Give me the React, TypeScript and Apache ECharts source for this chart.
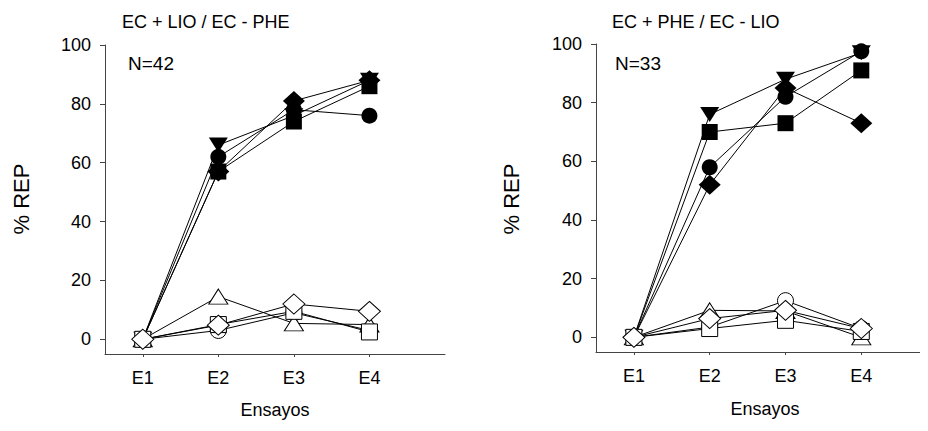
import React, { useEffect, useRef } from "react";
import * as echarts from "echarts";

const trials = ["E1", "E2", "E3", "E4"];
const yTicks = [0, 20, 40, 60, 80, 100];

// Left panel: EC + LIO / EC - PHE
const leftCircleFilled = [0, 62, 78, 76];
const leftTriDownFilled = [0, 66, 76, 88];
const leftSquareFilled = [0, 57, 74, 86];
const leftDiamondFilled = [0, 57, 81, 88];
const leftCircleOpen = [0, 3, 9, 3];
const leftTriOpen = [0, 14.5, 5.4, 5];
const leftSquareOpen = [0, 5, 9.5, 2.5];
const leftDiamondOpen = [0, 4.8, 12, 9.5];

// Right panel: EC + PHE / EC - LIO
const rightCircleFilled = [0, 58, 82, 97.5];
const rightTriDownFilled = [0, 76, 88, 97];
const rightSquareFilled = [0, 70, 73, 91];
const rightDiamondFilled = [0, 52, 85, 73];
const rightCircleOpen = [0, 3.5, 12.5, 3];
const rightTriOpen = [0, 9.2, 9, 0];
const rightSquareOpen = [0, 3, 5.8, 2];
const rightDiamondOpen = [0, 6.4, 9.2, 3];

const FONT = "Liberation Sans, Arial, sans-serif";

type Shape = "circle" | "triDown" | "triangle" | "rect" | "diamond";

function symbolFor(shape: Shape) {
  switch (shape) {
    case "circle":
      return { symbol: "circle", symbolSize: 16, symbolRotate: 0 };
    case "triDown":
      return { symbol: "triangle", symbolSize: [19, 15], symbolRotate: 180 };
    case "triangle":
      return { symbol: "triangle", symbolSize: [19, 15], symbolRotate: 0 };
    case "rect":
      return { symbol: "rect", symbolSize: 16, symbolRotate: 0 };
    case "diamond":
      return { symbol: "diamond", symbolSize: [22, 20], symbolRotate: 0 };
  }
}

function makeSeries(values: number[], shape: Shape, filled: boolean, panel: number) {
  const s = symbolFor(shape);
  return {
    type: "line",
    xAxisIndex: panel,
    yAxisIndex: panel,
    data: values.map((v, i) => [i + 1, v]),
    ...s,
    showSymbol: true,
    lineStyle: { color: "#000", width: 1 },
    itemStyle: filled
      ? { color: "#000", borderColor: "#000", borderWidth: 0 }
      : { color: "#fff", borderColor: "#000", borderWidth: 1 },
    emphasis: { disabled: true },
    z: filled ? 2 : 3,
  };
}

function xAxisFor(panel: number, max: number) {
  return {
    type: "value",
    gridIndex: panel,
    min: 0.5,
    max,
    axisLine: { show: true, onZero: false, lineStyle: { color: "#444", width: 1 } },
    axisTick: {
      show: true,
      length: 3,
      lineStyle: { color: "#444" },
      customValues: [1, 2, 3, 4],
    },
    axisLabel: {
      customValues: [1, 2, 3, 4],
      formatter: (v: number) => trials[Math.round(v) - 1] ?? "",
      color: "#000",
      fontFamily: FONT,
      fontSize: 18,
      margin: 15,
    },
    splitLine: { show: false },
  };
}

function yAxisFor(panel: number) {
  return {
    type: "value",
    gridIndex: panel,
    min: -5,
    max: 100,
    axisLine: { show: true, onZero: false, lineStyle: { color: "#444", width: 1 } },
    axisTick: {
      show: true,
      length: 5,
      lineStyle: { color: "#444" },
      customValues: yTicks,
    },
    axisLabel: {
      customValues: yTicks,
      color: "#000",
      fontFamily: FONT,
      fontSize: 18,
      margin: 14,
    },
    splitLine: { show: false },
  };
}

function textEl(text: string, x: number, y: number, size: number, align = "left", rotation = 0) {
  return {
    type: "text",
    x,
    y,
    rotation,
    silent: true,
    style: {
      text,
      fill: "#000",
      font: `${size}px ${FONT}`,
      textAlign: align,
      textVerticalAlign: "middle",
    },
  };
}

export default function App() {
  const ref = useRef<HTMLDivElement>(null);
  useEffect(() => {
    if (!ref.current) return;
    const chart = echarts.init(ref.current, null, { renderer: "svg" });
    chart.setOption({
      animation: false,
      backgroundColor: "#fff",
      grid: [
        { left: 105, top: 45, width: 340, height: 309 },
        { left: 596, top: 44, width: 332, height: 308 },
      ],
      xAxis: [xAxisFor(0, 5), xAxisFor(1, 4.88)],
      yAxis: [yAxisFor(0), yAxisFor(1)],
      series: [
        makeSeries(leftCircleFilled, "circle", true, 0),
        makeSeries(leftTriDownFilled, "triDown", true, 0),
        makeSeries(leftSquareFilled, "rect", true, 0),
        makeSeries(leftDiamondFilled, "diamond", true, 0),
        makeSeries(leftCircleOpen, "circle", false, 0),
        makeSeries(leftTriOpen, "triangle", false, 0),
        makeSeries(leftSquareOpen, "rect", false, 0),
        makeSeries(leftDiamondOpen, "diamond", false, 0),
        makeSeries(rightCircleFilled, "circle", true, 1),
        makeSeries(rightTriDownFilled, "triDown", true, 1),
        makeSeries(rightSquareFilled, "rect", true, 1),
        makeSeries(rightDiamondFilled, "diamond", true, 1),
        makeSeries(rightCircleOpen, "circle", false, 1),
        makeSeries(rightTriOpen, "triangle", false, 1),
        makeSeries(rightSquareOpen, "rect", false, 1),
        makeSeries(rightDiamondOpen, "diamond", false, 1),
      ],
      graphic: [
        textEl("EC + LIO / EC - PHE", 122, 22, 18),
        textEl("EC + PHE / EC - LIO", 612, 22, 18),
        textEl("N=42", 128, 63, 19),
        textEl("N=33", 615, 63, 19),
        textEl("% REP", 21, 199, 22, "center", Math.PI / 2),
        textEl("% REP", 511, 199, 22, "center", Math.PI / 2),
        textEl("Ensayos", 275, 410, 18, "center"),
        textEl("Ensayos", 765, 409, 18, "center"),
      ],
    });
    return () => chart.dispose();
  }, []);
  return <div ref={ref} style={{ width: 928, height: 431, margin: -8 }} />;
}
